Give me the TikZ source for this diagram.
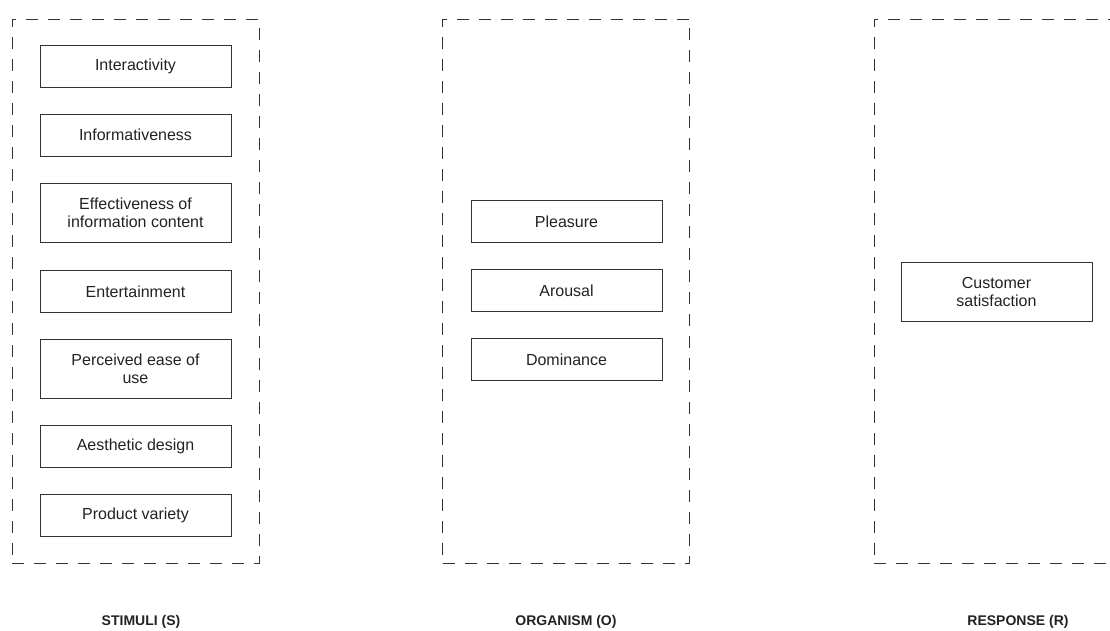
\documentclass[tikz,border=0pt]{standalone}
\usepackage{fontspec}
\setmainfont{Liberation Sans}
\definecolor{ln}{HTML}{333333}
\definecolor{tx}{HTML}{222222}
\begin{document}
\begin{tikzpicture}[x=1pt,y=-1pt,
  grp/.style={draw=ln,dash pattern=on 12pt off 10pt,line width=1pt,minimum width=247pt,minimum height=544pt,inner sep=0pt},
  item/.style={draw=ln,line width=1pt,minimum width=191pt,minimum height=42pt,align=center,text=tx,font=\fontsize{16}{18}\selectfont,inner sep=0pt},
  tall/.style={minimum height=59pt},
  lbl/.style={text=tx,font=\fontsize{14}{16}\selectfont\bfseries,inner sep=0pt}]
\useasboundingbox (0,0) rectangle (1110,630);
\clip (0,0) rectangle (1110,630);
\node[grp] (gS) at (135.5,291) {};
\node[grp] (gO) at (566,291) {};
\node[grp] (gR) at (997.5,291) {};
% stimuli
\node[item] (s1) at (135.5,66) {Interactivity};
\node[item] (s2) at (135.5,135) {Informativeness};
\node[item,tall] (s3) at (135.5,212.5) {Effectiveness of\\information content};
\node[item] (s4) at (135.5,291.5) {Entertainment};
\node[item,tall] (s5) at (135.5,369) {Perceived ease of\\use};
\node[item] (s6) at (135.5,446.5) {Aesthetic design};
\node[item] (s7) at (135.5,515.5) {Product variety};
% organism
\node[item] (o1) at (566.5,221.5) {Pleasure};
\node[item] (o2) at (566.5,290.5) {Arousal};
\node[item] (o3) at (566.5,359.5) {Dominance};
% response
\node[item,tall] (r1) at (996.5,291.5) {Customer\\satisfaction};
% labels
\node[lbl] (lS) at (141,622) {STIMULI (S)};
\node[lbl] (lO) at (566,622) {ORGANISM (O)};
\node[lbl] (lR) at (1018,622) {RESPONSE (R)};
\end{tikzpicture}
\end{document}
